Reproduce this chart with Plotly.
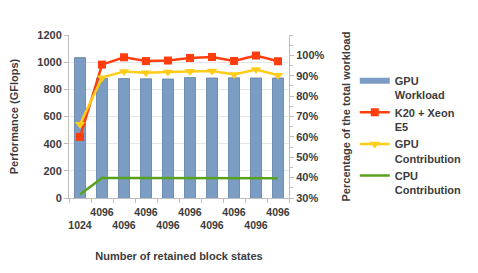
import plotly.graph_objects as go

categories = ["1024", "4096", "4096", "4096", "4096", "4096", "4096", "4096", "4096", "4096"]
gpu_workload_pct = [98.9, 88.8, 88.6, 88.5, 88.4, 89.1, 88.9, 89.0, 88.9, 88.9]
k20_xeon = [449, 982, 1036, 1008, 1012, 1031, 1038, 1009, 1049, 1007]
gpu_contrib = [543, 886, 932, 922, 928, 933, 935, 909, 946, 904]
cpu_contrib = [25, 147, 148, 148, 147, 148, 149, 150, 150, 146]
pct_ticks = [30, 40, 50, 60, 70, 80, 90, 100]

x_idx = list(range(len(categories)))
tick_text = [(" <br>" + c) if i % 2 == 0 else c for i, c in enumerate(categories)]
pct_text = [f"{v}%" for v in pct_ticks]

FONT = "Liberation Sans, Arial, sans-serif"
TXT = "#3c3c3c"
BAR_COLOR = "#7b9dc3"

fig = go.Figure()
fig.add_trace(go.Bar(
    x=x_idx, y=gpu_workload_pct, name="<b>GPU<br>Workload</b>", yaxis="y",
    width=0.5, marker=dict(color=BAR_COLOR, line=dict(color="#5d7fa6", width=0.8)),
    showlegend=False, legendgroup="bar",
))
# legend proxy drawn as a flat rectangle like the original legend key
fig.add_trace(go.Scatter(
    x=[None], y=[None], name="<b>GPU<br>Workload</b>", yaxis="y", mode="lines",
    line=dict(color=BAR_COLOR, width=6), legendgroup="bar", hoverinfo="skip",
))
fig.add_trace(go.Scatter(
    x=x_idx, y=k20_xeon, name="<b>K20 + Xeon<br>E5</b>", yaxis="y2", mode="lines+markers",
    line=dict(color="#ff3d0d", width=2.5), marker=dict(symbol="square", size=8, color="#ff3d0d"),
))
fig.add_trace(go.Scatter(
    x=x_idx, y=gpu_contrib, name="<b>GPU<br>Contribution</b>", yaxis="y2", mode="lines+markers",
    line=dict(color="#ffcc1a", width=2.5), marker=dict(symbol="triangle-down", size=9, color="#ffcc1a"),
))
fig.add_trace(go.Scatter(
    x=x_idx, y=cpu_contrib, name="<b>CPU<br>Contribution</b>", yaxis="y2", mode="lines",
    line=dict(color="#58a21e", width=2.5),
))

fig.update_layout(
    width=470, height=265,
    margin=dict(l=61, r=189, t=27, b=75, autoexpand=False),
    paper_bgcolor="white", plot_bgcolor="white",
    font=dict(family=FONT, color=TXT, size=11),
    showlegend=True,
    legend=dict(x=1.299, y=0.803, xanchor="left", yanchor="top", traceorder="normal",
                font=dict(size=11, color=TXT), tracegroupgap=0, valign="top",
                itemwidth=30, bgcolor="rgba(0,0,0,0)"),
    xaxis=dict(
        range=[-0.5, 9.5], tickvals=x_idx, ticktext=tick_text, ticks="", tickangle=0,
        tickfont=dict(size=10.5, color=TXT, weight="bold"), automargin=False,
        showline=True, linecolor="#bdbdbd", linewidth=1, showgrid=False, zeroline=False,
        ticklabelstandoff=4,
        minor=dict(tickvals=[i - 0.5 for i in range(len(categories) + 1)], ticks="outside",
                   ticklen=4, tickcolor="#bdbdbd"),
        title=dict(text="<b>Number of retained block states</b>", font=dict(size=11, color=TXT), standoff=22),
    ),
    yaxis=dict(
        side="right", range=[30, 110], tickvals=pct_ticks, ticktext=pct_text, automargin=False,
        tickfont=dict(size=11, color=TXT, weight="bold"), showgrid=False, zeroline=False,
        showline=True, linecolor="#bdbdbd", ticks="outside", ticklen=4, tickcolor="#bdbdbd",
        minor=dict(dtick=5, ticks="outside", ticklen=3, tickcolor="#bdbdbd"),
        title=dict(text="<b>Percentage of the total workload</b>", font=dict(size=11, color=TXT), standoff=18),
    ),
    yaxis2=dict(
        overlaying="y", side="left", range=[0, 1200], dtick=200, automargin=False,
        tickfont=dict(size=11, color=TXT, weight="bold"), showgrid=True, gridcolor="#e6e6e6",
        zeroline=False, showline=True, linecolor="#bdbdbd", ticks="outside", ticklen=4,
        tickcolor="#bdbdbd",
        title=dict(text="<b>Performance (GFlops)</b>", font=dict(size=11, color=TXT), standoff=16),
    ),
)

fig.write_html("out.html")
